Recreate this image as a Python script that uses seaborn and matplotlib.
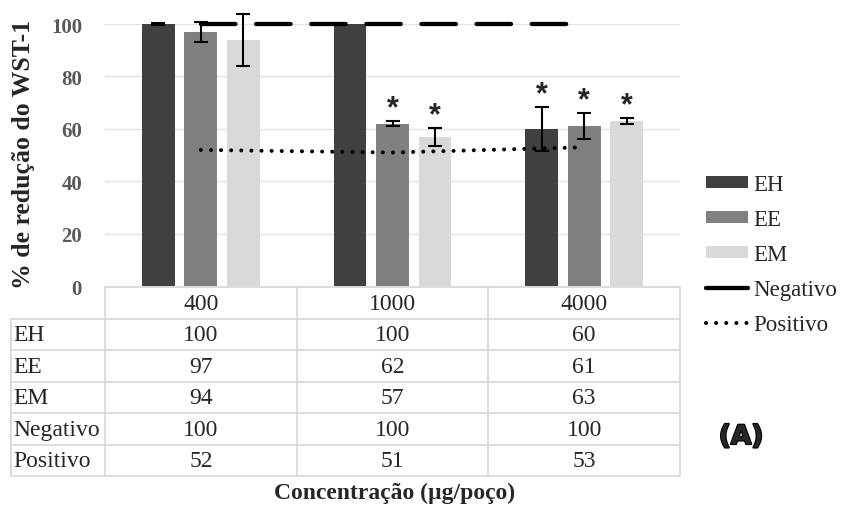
import numpy as np
import pandas as pd
import matplotlib
matplotlib.use("Agg")
import matplotlib.pyplot as plt
import matplotlib.patheffects as pe
from matplotlib.lines import Line2D
from matplotlib.patches import Patch
import seaborn as sns

# ---- data ---------------------------------------------------------------
concentrations = ["400", "1000", "4000"]
extracts = ["EH", "EE", "EM"]
eh = [100, 100, 60]
ee = [97, 62, 61]
em = [94, 57, 63]
eh_err = [0.3, 0.0, 8.5]
ee_err = [3.7, 1.0, 5.0]
em_err = [10.0, 3.5, 1.0]
negativo = [100, 100, 100]
positivo = [52, 51, 53]
eh_sig = [False, False, True]
ee_sig = [False, True, True]
em_sig = [False, True, True]
yticks = [0, 20, 40, 60, 80, 100]
ylabel = "% de redução do WST-1"
xlabel = "Concentração (µg/poço)"

colors = {"EH": "#404040", "EE": "#808080", "EM": "#d9d9d9"}
values = {"EH": eh, "EE": ee, "EM": em}
errors = {"EH": eh_err, "EE": ee_err, "EM": em_err}
signif = {"EH": eh_sig, "EE": ee_sig, "EM": em_sig}

df = pd.DataFrame(
    [(c, e, values[e][i]) for e in extracts for i, c in enumerate(concentrations)],
    columns=["conc", "extrato", "valor"],
)

# ---- figure -------------------------------------------------------------
sns.set_style("white")
plt.rcParams["font.family"] = ["Liberation Serif", "DejaVu Sans"]

W, H = 841, 506
fig = plt.figure(figsize=(W / 100, H / 100), dpi=100)


def fx(px):
    return px / W


def fy(py):
    return 1 - py / H


top_px, base_px, left_px, right_px = 25, 287.3, 105, 680
ax = fig.add_axes([fx(left_px), fy(base_px), fx(right_px) - fx(left_px), (base_px - top_px) / H])

sns.barplot(data=df, x="conc", y="valor", hue="extrato", order=concentrations,
            hue_order=extracts, palette=colors, width=0.665, gap=0.225,
            linewidth=0, errorbar=None, legend=False, ax=ax, zorder=2)

ax.set_xlim(-0.5, 2.5)
ax.set_ylim(0, 100)
ax.set_yticks(yticks)
ax.set_yticklabels([str(t) for t in yticks], fontweight="bold", fontsize=15, color="#595959")
ax.tick_params(axis="y", length=0, pad=16.5)
ax.set_xticks([])
ax.set_xlabel("")
ax.set_ylabel("")
for s in ax.spines.values():
    s.set_visible(False)
ax.yaxis.grid(True, color="#e3e3e3", lw=1.0, zorder=0)
ax.set_axisbelow(True)

# error bars and significance marks on each bar
for container, ext in zip(ax.containers, extracts):
    for j, bar in enumerate(container):
        x = bar.get_x() + bar.get_width() / 2
        h = bar.get_height()
        err = errors[ext][j]
        if err > 0:
            ax.errorbar(x, h, yerr=err, fmt="none", ecolor="black", elinewidth=1.5,
                        capsize=5, capthick=1.5, clip_on=False, zorder=4)
        if signif[ext][j]:
            ax.text(x, h + err + 1.8, "*", ha="center", va="baseline", fontsize=22,
                    fontweight="bold", family=["Liberation Sans", "DejaVu Sans"],
                    clip_on=False, zorder=5)

# control lines
pos = np.arange(len(concentrations))
ax.plot(pos, negativo, color="black", lw=3.1, linestyle=(0, (8, 4.8)),
        dash_capstyle="round", clip_on=False, zorder=3)
ax.plot(pos, positivo, color="black", lw=2.9, linestyle=(0, (0.01, 2.5)),
        dash_capstyle="round", clip_on=False, zorder=3)

# ---- data table ---------------------------------------------------------
tab_left, tab_top, tab_bottom = 11, 288, 477
cat_px = (right_px - left_px) / 3.0
xmin = -0.5 - (left_px - tab_left) / cat_px
tab = fig.add_axes([fx(tab_left), fy(tab_bottom), fx(right_px) - fx(tab_left), (tab_bottom - tab_top) / H])
tab.set_xlim(xmin, 2.5)
tab.set_ylim(6, 0)
tab.axis("off")

gcol, glw = "#d9d9d9", 1.3
tab.plot([-0.5, 2.5], [0, 0], color=gcol, lw=glw, clip_on=False)
for k in range(4):
    tab.plot([-0.5 + k, -0.5 + k], [0, 6], color=gcol, lw=glw, clip_on=False)
tab.plot([xmin, xmin], [1, 6], color=gcol, lw=glw, clip_on=False)
for r in range(1, 7):
    tab.plot([xmin, 2.5], [r, r], color=gcol, lw=glw, clip_on=False)

tfs = 17
for j, c in enumerate(concentrations):
    tab.text(j, 0.52, c, ha="center", va="center", fontsize=tfs)

rows = [("EH", eh), ("EE", ee), ("EM", em), ("Negativo", negativo), ("Positivo", positivo)]
for i, (name, vals) in enumerate(rows):
    yy = i + 1.52
    tab.text(xmin + 2 / cat_px, yy, name, ha="left", va="center", fontsize=tfs)
    for j, v in enumerate(vals):
        tab.text(j, yy, f"{v:g}", ha="center", va="center", fontsize=tfs)

# ---- labels -------------------------------------------------------------
fig.text(fx(24), fy(154), ylabel, rotation=90, ha="center", va="center",
         fontsize=18.5, fontweight="bold")
fig.text(fx(395), fy(493), xlabel, ha="center", va="center", fontsize=17, fontweight="bold")
fig.text(fx(741), fy(438), "(A)", ha="center", va="center", fontsize=19,
         fontweight="bold", family=["DejaVu Sans"],
         path_effects=[pe.withStroke(linewidth=1.6, foreground="black")])

# ---- legend -------------------------------------------------------------
handles = [Patch(facecolor=colors[e], edgecolor="none") for e in extracts]
handles.append(Line2D([0], [0], color="black", lw=3.1, solid_capstyle="round"))
handles.append(Line2D([0], [0], color="black", lw=2.9, linestyle=(0, (0.01, 2.5)),
                      dash_capstyle="round"))
labels = extracts + ["Negativo", "Positivo"]
fig.legend(handles, labels, loc="upper left", bbox_to_anchor=(fx(706), fy(175)),
           frameon=False, fontsize=16.5, handlelength=1.83, handleheight=0.4,
           handletextpad=0.25, labelspacing=0.61, borderpad=0, borderaxespad=0)

fig.savefig("out.png", dpi=100, facecolor="white")
